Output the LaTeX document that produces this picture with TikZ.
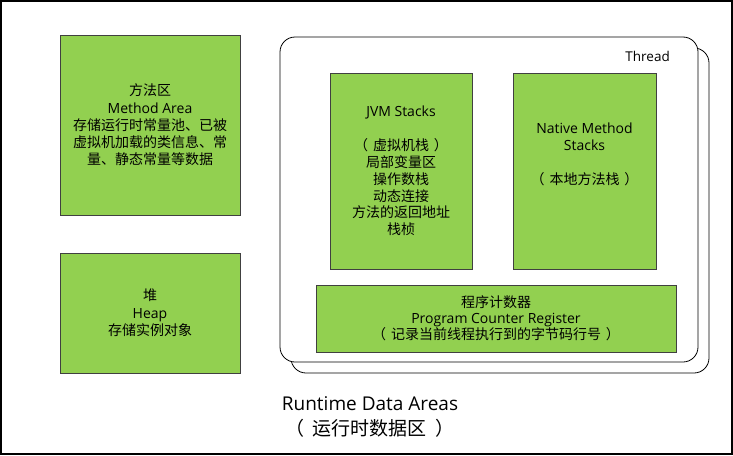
\documentclass[tikz,border=0pt]{standalone}
\usepackage{fontspec}
\setmainfont{Open Sans}
\newfontfamily\cjk{Noto Sans CJK SC}
\newcommand\lparen[1][0.35em]{（\hspace{#1}}
\newcommand\rparen[1][0.35em]{\hspace{#1}）}
\definecolor{areagreen}{HTML}{92D050}
\begin{document}
\begin{tikzpicture}[x=1pt,y=-1pt,
  area/.style={draw=black!75, line width=0.9pt, fill=areagreen, align=center, inner sep=0pt, font=\fontsize{14}{17.3}\selectfont},
  threadbox/.style={draw=black, line width=0.8pt, rounded corners=15pt, fill=white, inner sep=0pt}]
\useasboundingbox (0,0) rectangle (733,455);
\draw[line width=1.5pt] (1,1) rectangle (732,454);
% method area
\node[area, minimum width=180pt, minimum height=180pt] (method) at (150,125)
  {{\cjk 方法区}\\Method Area\\{\cjk 存储运行时常量池、已被}\\{\cjk 虚拟机加载的类信息、常}\\{\cjk 量、静态常量等数据}};
% heap
\node[area, minimum width=180pt, minimum height=120pt] (heap) at (150,313)
  {{\cjk 堆}\\Heap\\{\cjk 存储实例对象}};
% thread
\node[threadbox, minimum width=418pt, minimum height=325pt] (threadback) at (500,210.5) {};
\node[threadbox, minimum width=418pt, minimum height=325pt] (threadfront) at (489,199.5) {};
\node[anchor=east, inner sep=0pt, font=\fontsize{13.5}{17}\selectfont] (threadlbl) at (670,56) {Thread};
% JVM stacks
\node[area, minimum width=142pt, minimum height=196pt, font=\fontsize{14}{16.9}\selectfont] (jvm) at (401,171)
  {JVM Stacks\\[16.9pt]{\cjk \lparen 虚拟机栈\rparen}\\{\cjk 局部变量区}\\{\cjk 操作数栈}\\{\cjk 动态连接}\\{\cjk 方法的返回地址}\\{\cjk 栈桢}};
% native
\node[area, minimum width=143pt, minimum height=196pt] (native) at (584.5,171)
  {Native Method\\Stacks\\[17pt]{\cjk \lparen 本地方法栈\rparen}\\[17pt]\mbox{}};
% PC register
\node[area, minimum width=360pt, minimum height=67pt, font=\fontsize{14}{16}\selectfont] (pc) at (496,318.5)
  {{\cjk 程序计数器}\\Program Counter Register\\{\cjk \lparen 记录当前线程执行到的字节码行号\rparen}};
% title
\node[align=center, inner sep=0pt, font=\fontsize{19}{25}\selectfont] (title) at (370,417)
  {Runtime Data Areas\\{\cjk \lparen[0.45em]运行时数据区\rparen[0.45em]}};
\end{tikzpicture}
\end{document}
